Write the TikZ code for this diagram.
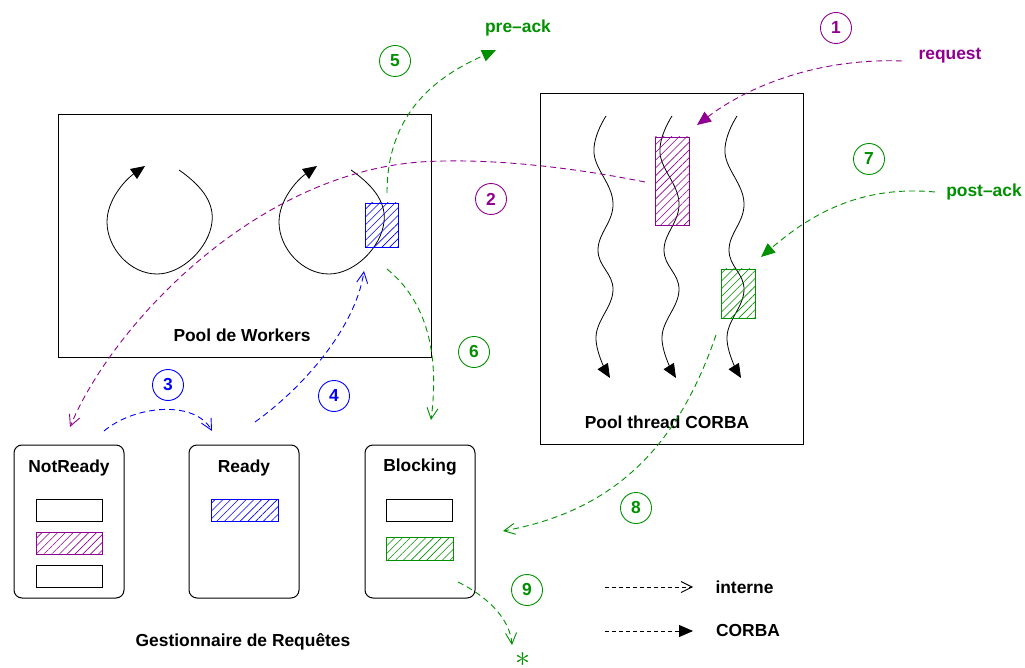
\documentclass[tikz,border=0pt]{standalone}
\usepackage{fontspec}
\setmainfont{Liberation Sans}
\usepackage{tikz}
\usetikzlibrary{arrows}
\usetikzlibrary{arrows.meta}
\usetikzlibrary{patterns.meta}
\usepackage{xcolor}
\definecolor{cpurple}{RGB}{144,0,144}
\definecolor{cgreen}{RGB}{0,144,0}
\definecolor{cblue}{RGB}{0,0,255}
\newcommand{\etiq}{\fontsize{17.4}{20}\selectfont\bfseries}

\tikzset{
 poolbox/.style={draw,line width=1pt,inner sep=0pt},
 etat/.style={draw,line width=1pt,rounded corners=8pt,inner sep=0pt,minimum width=110pt,minimum height=153pt},
 slot/.style={draw,line width=0.9pt,inner sep=0pt,minimum width=66pt,minimum height=22pt},
 hach/.style={draw=#1,line width=0.9pt,inner sep=0pt,pattern={Lines[angle=45,distance=5.5pt,line width=0.6pt]},pattern color=#1},
 numero/.style={draw=#1,text=#1,circle,line width=0.9pt,minimum size=31pt,inner sep=0pt,font=\etiq},
 interne/.style={line width=0.9pt,dash pattern=on 6pt off 4pt,-{Straight Barb[length=11pt,width=11pt]}},
 corba/.style={line width=0.9pt,dash pattern=on 6pt off 4pt,-{Triangle[length=14pt,width=12pt]}},
 fil/.style={line width=0.8pt,-{Triangle[length=14pt,width=12pt]}}
}

\begin{document}
\begin{tikzpicture}[x=1pt,y=-1pt]
\path[fill=white,use as bounding box] (0,0) rectangle (1025,668);

% les deux pools
\draw (244.5,236) node[poolbox,minimum width=373pt,minimum height=242pt] (workers) {};
\draw (242,335) node[font=\etiq] (tworkers) {Pool de Workers};
\draw (671.5,269) node[poolbox,minimum width=263pt,minimum height=350pt] (corbapool) {};
\draw (667,422) node[font=\etiq] (tcorba) {Pool thread CORBA};

% workers
\draw[fil] (179,170) .. controls (205,188) and (214,205) .. (212,222) .. controls (209,248) and (182,274) .. (157,274) .. controls (130,274) and (107,248) .. (107,222) .. controls (107,200) and (125,180) .. (145,166);
\draw[fil,xshift=172pt] (179,170) .. controls (205,188) and (214,205) .. (212,222) .. controls (209,248) and (182,274) .. (157,274) .. controls (130,274) and (107,248) .. (107,222) .. controls (107,200) and (125,180) .. (145,166);

% threads CORBA
\draw[fil] plot[smooth,tension=0.7] coordinates {(606,116) (594,153) (613,203) (598,250) (613,290) (596,337) (610,378)};
\draw[fil,xshift=66pt] plot[smooth,tension=0.7] coordinates {(606,116) (594,153) (613,203) (598,250) (613,290) (596,337) (610,378)};
\draw[fil,xshift=131pt] plot[smooth,tension=0.7] coordinates {(606,116) (594,153) (613,203) (598,250) (613,290) (596,337) (610,378)};

% requetes
\draw (381.5,225) node[hach=cblue,minimum width=33pt,minimum height=44pt] (reqw) {};
\draw (672,181) node[hach=cpurple,minimum width=34pt,minimum height=88pt] (reqc) {};
\draw (738,293.5) node[hach=cgreen,minimum width=34pt,minimum height=49pt] (reqb) {};

% gestionnaire
\draw (69,521.5) node[etat] (notready) {};
\draw (244,521.5) node[etat] (ready) {};
\draw (420,521.5) node[etat] (blocking) {};
\draw ([yshift=-23pt]notready.north) node[font=\etiq] (tnotready) {NotReady};
\draw ([yshift=-23pt]ready.north) node[font=\etiq] (tready) {Ready};
\draw ([yshift=-23pt]blocking.north) node[font=\etiq] (tblocking) {Blocking};

\draw (69,510) node[slot] (nr1) {};
\draw (69,543) node[slot,hach=cpurple,minimum width=66pt,minimum height=22pt] (nr2) {};
\draw (69,576) node[slot] (nr3) {};
\draw (244.5,510) node[slot,hach=cblue,minimum width=67pt,minimum height=22pt] (rd1) {};
\draw (419.5,510) node[slot] (bl1) {};
\draw (419.5,548.5) node[slot,hach=cgreen,minimum width=67pt,minimum height=23pt] (bl2) {};

\draw (243,642) node[font=\etiq] (gest) {Gestionnaire de Requ\^etes};

% etiquettes
\draw (950,56) node[font=\etiq,text=cpurple] (request) {request};
\draw (518,28) node[font=\etiq,text=cgreen] (preack) {pre--ack};
\draw (984,192) node[font=\etiq,text=cgreen] (postack) {post--ack};
\draw (523,660) node[text=cgreen,inner sep=0pt] (fin) {\scalebox{3}{$\ast$}};

\draw (836,28) node[numero=cpurple] (n1) {1};
\draw (491,199) node[numero=cpurple] (n2) {2};
\draw (168,385) node[numero=cblue] (n3) {3};
\draw (334,396) node[numero=cblue] (n4) {4};
\draw (395,61) node[numero=cgreen] (n5) {5};
\draw (474,352) node[numero=cgreen] (n6) {6};
\draw (869,159) node[numero=cgreen] (n7) {7};
\draw (636,508) node[numero=cgreen] (n8) {8};
\draw (527,590) node[numero=cgreen] (n9) {9};

% fleches
\coordinate (a1) at (902,61);
\coordinate (b1) at (697,125);
\draw[corba,cpurple] (a1) .. controls (820,58) and (750,85) .. (b1);

\coordinate (a2) at (645,182);
\coordinate (m2) at (420,162);
\coordinate (b2) at (70,427);
\draw[interne,cpurple] (a2) .. controls (560,165) and (480,158) .. (m2) .. controls (250,175) and (110,330) .. (b2);

\coordinate (a3) at (104,431);
\coordinate (b3) at (212,431);
\draw[interne,cblue] (a3) .. controls (135,405) and (195,400) .. (b3);

\coordinate (a4) at (255,422);
\coordinate (b4) at (364,271);
\draw[interne,cblue] (a4) .. controls (300,390) and (355,330) .. (b4);

\coordinate (a5) at (387,193);
\coordinate (b5) at (496,50);
\draw[corba,cgreen] (a5) .. controls (387,110) and (440,75) .. (b5);

\coordinate (a6) at (387,269);
\coordinate (b6) at (431,420);
\draw[interne,cgreen] (a6) .. controls (425,300) and (440,350) .. (b6);

\coordinate (a7) at (935,192);
\coordinate (b7) at (761,257);
\draw[corba,cgreen] (a7) .. controls (860,185) and (810,215) .. (b7);

\coordinate (a8) at (716,335);
\coordinate (b8) at (503,531);
\draw[interne,cgreen] (a8) .. controls (680,440) and (620,510) .. (b8);

\coordinate (a9) at (458,582);
\coordinate (b9) at (512,645);
\draw[interne,cgreen] (a9) .. controls (490,598) and (510,620) .. (b9);

% legende
\draw (744.5,587) node[font=\etiq] (tinterne) {interne};
\draw (748,631) node[font=\etiq] (tcorbaleg) {CORBA};
\coordinate (la) at (605,587);
\coordinate (lb) at (693,587);
\coordinate (lc) at (605,631);
\coordinate (ld) at (693,631);
\draw[interne,dash pattern=on 4pt off 3pt] (la) -- (lb);
\draw[corba,dash pattern=on 4pt off 3pt] (lc) -- (ld);
\end{tikzpicture}
\end{document}
